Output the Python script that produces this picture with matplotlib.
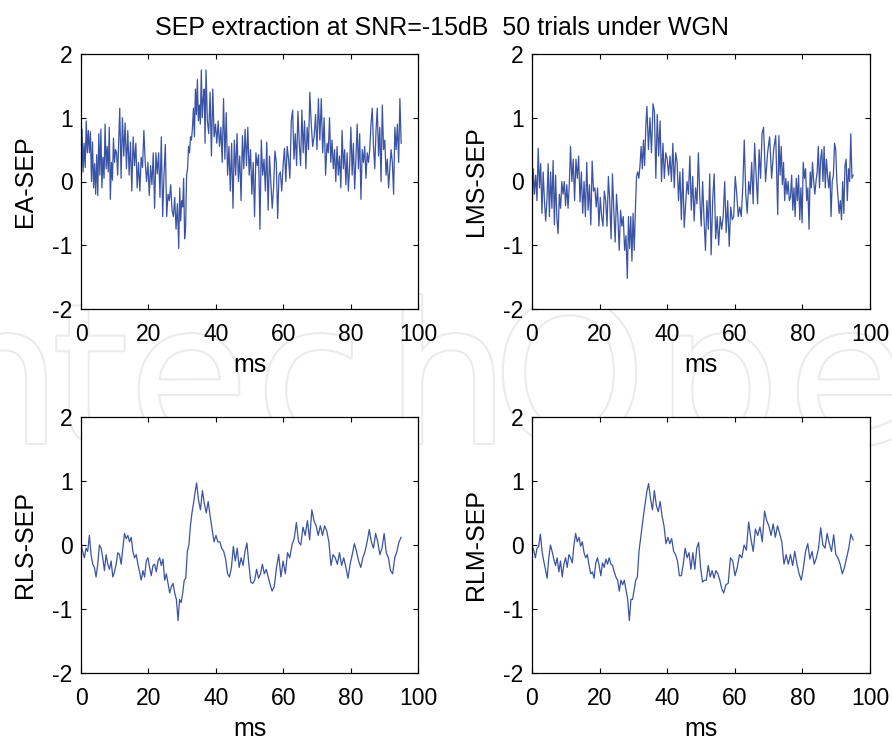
import numpy as np
import matplotlib
matplotlib.use('Agg')
from matplotlib import pyplot as plt
from matplotlib import patheffects

plt.rcParams['font.family'] = ['Liberation Sans', 'DejaVu Sans']

# values
ea_sep = [
    -0.2, 0.82, 0.15, 0.6, 0.22, 0.95, 0.45, 0.8, 0.45, 0.78,
    0.0, 0.62, -0.1, 0.28, -0.2, 0.42, -0.22, 0.75, 0.1, 0.82,
    -0.1, 0.38, 0.05, 0.9, 0.2, 0.55, 0.15, 0.85, -0.28, 0.3,
    0.02, 0.68, 0.3, 0.5, 0.45, 0.1, 0.62, 1.15, 0.05, 1.0,
    0.4, 0.92, 0.2, 0.8, 0.1, 0.62, -0.15, 0.7, 0.25, 0.6,
    -0.1, 0.3, -0.15, 0.38, 0.22, 0.8, 0.3, 0.0, 0.3, -0.22,
    0.25, -0.05, 0.45, -0.42, 0.45, 0.12, 0.45, -0.25, 0.7, -0.55,
    0.1, 0.58, -0.55, -0.2, -0.3, -0.05, -0.45, -0.55, -0.25, -0.75,
    -0.35, -1.05, -0.1, -0.62, -0.3, -0.4, 0.05, -0.9, -0.72, 0.1,
    0.2, 0.55, 0.45, 0.7, 0.65, 0.85, 1.15, 0.7, 1.45, 1.05,
    1.6, 0.95, 1.2, 0.9, 1.75, 1.0, 1.3, 1.45, 0.6, 1.75,
    0.95, 0.75, 1.4, 0.4, 1.45, 0.7, 0.9, 0.6, 0.95, 0.55,
    0.85, 0.3, 1.3, 0.35, 1.08, 0.1, 0.55, -0.15, 0.6, -0.42,
    0.65, 0.1, 0.75, 0.0, 0.4, -0.3, 0.72, 0.2, 0.82, 0.25,
    0.85, 0.1, 0.5, -0.2, 0.3, -0.55, 0.45, 0.25, 0.42, -0.75,
    0.65, 0.1, 0.35, -0.15, 0.62, -0.45, 0.4, 0.0, -0.42, -0.1,
    0.48, 0.3, -0.58, 0.1, 0.15, -0.15, 0.25, 0.52, 0.0, 0.55,
    0.35, 0.05, 0.95, 1.12, 0.35, 0.75, 0.25, 1.1, 0.6, 0.25,
    1.12, 0.45, 0.95, 0.2, 0.85, 0.5, 1.4, 0.9, 0.55, 0.7,
    1.05, 0.5, 1.3, 0.65, 1.3, 0.45, 1.0, 0.1, 0.6,
    0.45, 1.0, 0.3, 0.65, 0.2, 0.5, 0.0, 0.55, 0.1, 0.4,
    -0.1, 0.8, 0.2, 0.5, -0.05, 0.45, -0.15, 0.25, 0.85, 0.1,
    0.6, -0.12, 0.35, 0.9, 0.2, 0.75, -0.28, 0.5, 0.3, 0.55,
    0.05, 0.45, 0.3, 0.5, 0.9, 1.15, 0.55, 0.2, 0.8, 1.15,
    0.4, 0.85, 0.0, 1.2, 0.5, 0.65, 0.1, 0.35, -0.1, 0.2,
    0.5, 0.3, -0.2, 0.85, 0.5, 0.9, 0.3, 1.3, 0.6,
]
lms_sep = [
    -0.55, 0.2, -0.2, 0.1, -0.3, 0.52, -0.1, 0.28, -0.5, 0.15,
    -0.3, -0.62, -0.3, 0.28, -0.55, 0.15, -0.42, 0.33, -0.68, 0.1,
    -0.58, -0.82, -0.2, -0.42, 0.0, -0.2, 0.0, -0.38, -0.05, -0.42,
    -0.05, 0.55, 0.0, 0.35, -0.3, 0.35, 0.05, 0.4, -0.32, 0.15,
    -0.5, 0.0, -0.55, 0.3, -0.45, -0.05, -0.68, 0.32, -0.15, -0.1,
    -0.4, -0.1, -0.7, -0.25, -0.55, -0.7, -0.15, -0.3, -0.7, 0.08,
    -0.3, -0.9, 0.12, -0.45, -0.95, -0.2, -0.55, -1.08, -0.45, -0.7,
    -0.55, -1.08, -0.85, -1.52, -0.55, -1.05, -0.55, -1.25, -0.5, -1.08,
    -0.45, 0.08, 0.15, 0.05, 0.25, 0.55, 0.2, 0.65, 0.25, 0.85,
    1.18, 0.5, 1.0, 0.45, 1.22, 1.1, 0.05, 1.05, 0.4, 0.95,
    0.0, 0.6, 0.05, 0.45, 0.35, 0.1, 0.4, 0.0, 0.6, -0.1,
    0.45, 0.3, -0.3, 0.15, -0.6, 0.2, -0.72, -0.35, 0.0, -0.2,
    0.4, -0.45, 0.08, -0.62, -0.1, -0.35, 0.45, -0.25, -0.7, 0.0,
    -0.6, -1.08, -0.3, -0.75, 0.12, -1.15, -0.3, 0.12, -0.9, -0.55,
    -1.0, -0.55, -0.75, -0.55, 0.0, -0.8, -0.3, -1.02, -0.4, -0.6,
    -0.55, 0.08, -0.2, -0.55, -0.4, -0.55, -0.1, 0.65, -0.2, -0.5,
    0.0, -0.2, 0.3, -0.35, 0.6, 0.1, -0.35, 0.5, 0.05, 0.75,
    0.85, 0.0, 0.45, 0.7, 0.05, 0.5, 0.72, -0.52, 0.72, 0.1,
    0.55, -0.05, 0.3, -0.3, 0.05, -0.2, 0.0, -0.3, -0.25, 0.1,
    -0.45, -0.1, -0.55, 0.05, -0.3, 0.1, -0.6, -0.1, -0.65, 0.3,
    0.05, 0.2, -0.3, -0.1, -0.75, 0.15, -0.1, 0.3, 0.0, -0.2,
    0.0, 0.15, 0.55, -0.1, 0.35, 0.5, 0.0, 0.55, -0.1, 0.35,
    0.1, -0.1, 0.15, -0.55, 0.0, 0.1, 0.6, 0.5, 0.0, -0.25,
    -0.5, -0.3, -0.6, 0.0, -0.5, 0.25, 0.35, -0.3, 0.2, 0.0,
    0.75, 0.05, 0.1,
]
rls_sep = [
    0.0, -0.1, -0.2, -0.05, -0.1, 0.15, -0.15, -0.3, -0.35, -0.5,
    -0.3, 0.0, -0.05, -0.2, -0.4, -0.15, -0.3, -0.38, -0.25, -0.5,
    -0.42, -0.3, -0.12, -0.15, -0.3, -0.05, 0.18, 0.1, 0.15, 0.05,
    0.12, -0.1, -0.2, -0.15, -0.3, -0.42, -0.55, -0.4, -0.5, -0.25,
    -0.2, -0.35, -0.48, -0.32, -0.3, -0.42, -0.25, -0.2, -0.32, -0.22,
    -0.55, -0.45, -0.6, -0.75, -0.65, -0.6, -0.75, -0.85, -1.18, -0.85,
    -0.9, -0.75, -0.55, -0.52, -0.1, 0.0, 0.3, 0.5, 0.65, 0.82,
    0.97, 0.7, 0.55, 0.85, 0.65, 0.5, 0.68, 0.45, 0.25, 0.05,
    0.15, 0.05, 0.05, -0.05, -0.1, -0.22, -0.45, -0.5, -0.35, -0.02,
    -0.25, -0.05, -0.35, -0.2, -0.32, -0.1, 0.03, -0.3, -0.58, -0.6,
    -0.55, -0.38, -0.52, -0.45, -0.3, -0.45, -0.38, -0.5, -0.62, -0.72,
    -0.65, -0.35, -0.15, -0.5, -0.25, -0.45, -0.12, -0.2, 0.0, 0.1,
    0.35, 0.05, 0.0, 0.28, 0.15, 0.38, 0.08, 0.55, 0.38, 0.3,
    0.15, 0.3, 0.15, 0.3, 0.22, 0.05, -0.32, -0.15, -0.2, -0.3,
    -0.12, -0.32, -0.2, -0.35, -0.52, -0.3, -0.15, 0.02, -0.1, -0.25,
    -0.35, -0.2, -0.1, 0.05, 0.24, 0.05, -0.05, 0.18, 0.05, -0.15,
    -0.05, 0.18, -0.12, -0.2, -0.4, -0.45, -0.2, -0.1, 0.05, 0.12,
]
rlm_sep = [
    0.0, -0.08, -0.2, -0.05, -0.02, 0.17, -0.1, -0.25, -0.38, -0.52,
    -0.2, 0.0, -0.1, -0.22, -0.32, -0.2, -0.42, -0.25, -0.5, -0.3,
    -0.2, -0.35, -0.15, -0.2, -0.28, 0.0, 0.18, 0.05, 0.12, -0.02,
    0.05, -0.12, -0.2, -0.15, -0.32, -0.45, -0.42, -0.52, -0.28, -0.2,
    -0.32, -0.48, -0.28, -0.35, -0.22, -0.3, -0.2, -0.3, -0.32, -0.42,
    -0.5, -0.55, -0.72, -0.55, -0.62, -0.55, -0.7, -0.85, -1.18, -0.85,
    -0.85, -0.7, -0.55, -0.5, -0.1, 0.1, 0.3, 0.5, 0.68, 0.85,
    0.96, 0.72, 0.55, 0.85, 0.62, 0.52, 0.68, 0.45, 0.3, 0.02,
    0.12, 0.02, 0.1, -0.1, -0.15, -0.25, -0.48, -0.48, -0.3, -0.05,
    -0.2, -0.12, -0.38, -0.12, -0.38, -0.05, 0.04, -0.35, -0.58, -0.55,
    -0.55, -0.32, -0.5, -0.4, -0.52, -0.4, -0.45, -0.55, -0.68, -0.75,
    -0.62, -0.6, -0.2, -0.25, -0.48, -0.35, -0.15, -0.2, 0.0, -0.08,
    0.36, 0.1, -0.1, 0.25, 0.15, 0.28, 0.05, 0.53, 0.38, 0.3,
    0.15, 0.33, 0.12, 0.3, 0.18, 0.05, -0.3, -0.15, -0.3, -0.15,
    -0.32, -0.1, -0.3, -0.45, -0.55, -0.35, -0.1, 0.02, -0.22, -0.1,
    -0.3, -0.2, -0.05, 0.27, 0.0, -0.05, 0.18, 0.02, -0.1, 0.16,
    -0.15, -0.2, -0.3, -0.45, -0.35, -0.2, -0.05, 0.17, 0.08,
]

# sample number -> ms at features that can be located on the time axis
ea_idx = [0, 37, 81, 104, 109, 149, 173, 186, 198, 257]
ea_ms = [0, 11.5, 29, 35.7, 37.1, 53.1, 62.8, 67.9, 73, 95]
lms_idx = [0, 31, 73, 90, 94, 135, 157, 170, 177, 242]
lms_ms = [0, 11.4, 28.2, 34, 35.8, 53, 62.8, 68.5, 72.7, 95]
rls_idx = [0, 58, 70, 109, 127, 169]
rls_ms = [0, 28.8, 34.3, 56.7, 68.5, 95]
rlm_idx = [0, 58, 70, 109, 127, 168]
rlm_ms = [0, 28.8, 34.5, 56.7, 68.8, 95]

y_labels = ['EA-SEP', 'LMS-SEP', 'RLS-SEP', 'RLM-SEP']
x_ticks = [0, 20, 40, 60, 80, 100]
y_ticks = [-2, -1, 0, 1, 2]
title = 'SEP extraction at SNR=-15dB  50 trials under WGN'

W, H = 892, 737
line_color = '#3a53a4'

fig = plt.figure(figsize=(W / 100, H / 100), dpi=100, facecolor='white')

# pixel boxes of the four panels: left, right, top, bottom
boxes = [(81, 418, 54, 309), (532, 870, 54, 309),
         (81, 418, 417, 673), (532, 870, 417, 673)]
series = [(ea_sep, ea_idx, ea_ms), (lms_sep, lms_idx, lms_ms),
          (rls_sep, rls_idx, rls_ms), (rlm_sep, rlm_idx, rlm_ms)]

for box, (values, idx, t), name in zip(boxes, series, y_labels):
    left, right, top, bottom = box
    ax = fig.add_axes([left / W, 1 - bottom / H, (right - left) / W, (bottom - top) / H])
    ms = np.interp(np.arange(len(values)), idx, t)
    ax.plot(ms, values, color=line_color, lw=0.9)
    ax.set_xlim(0, 100)
    ax.set_ylim(-2, 2)
    ax.set_xticks(x_ticks)
    ax.set_yticks(y_ticks)
    ax.set_yticklabels([str(v) for v in y_ticks])
    ax.tick_params(axis='x', direction='in', length=3.5, width=0.8, top=True,
                   labelsize=16.5, pad=10)
    ax.tick_params(axis='y', direction='in', length=3.5, width=0.8, right=True,
                   labelsize=16.5, pad=6)
    ax.set_xlabel('ms', fontsize=18, labelpad=5)
    ax.set_ylabel(name, fontsize=18, labelpad=11)
    for s in ax.spines.values():
        s.set_linewidth(0.9)

fig.text(442 / W, 1 - 28 / H, title, fontsize=18, ha='center', va='center')

# pale watermark behind the panels
mark_letters = ['n', 't', 'e', 'c', 'h', 'O', 'p', 'e']
mark_x = [-62, 52, 129, 256, 386, 493, 656, 788]
for letter, px in zip(mark_letters, mark_x):
    fig.text(px / W, 1 - 443 / H, letter, fontsize=140, color='white', zorder=-1,
             family='DejaVu Sans', ha='left', va='baseline',
             path_effects=[patheffects.withStroke(linewidth=3, foreground='#ebebeb')])

fig.savefig('out.png', dpi=100)
